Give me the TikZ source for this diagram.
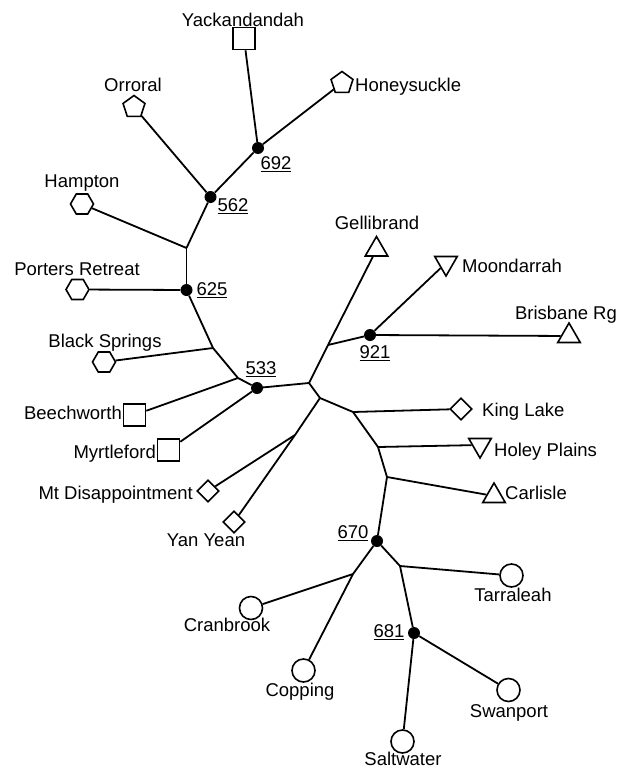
\documentclass[tikz,border=0pt]{standalone}
\usepackage{fontspec}
\setmainfont{Liberation Sans}
\usetikzlibrary{shapes.geometric}
\begin{document}
\begin{tikzpicture}[x=1pt,y=-1pt,
  edge/.style={line width=1.8pt},
  site/.style={draw, line width=1.6pt, inner sep=0pt, fill=white},
  sq/.style={site, rectangle, minimum size=22pt},
  pent/.style={site, regular polygon, regular polygon sides=5, minimum size=23pt},
  hex/.style={site, regular polygon, regular polygon sides=6, minimum size=23pt},
  tri/.style={site, regular polygon, regular polygon sides=3, minimum size=26pt},
  itri/.style={tri, shape border rotate=180},
  dia/.style={site, diamond, minimum size=22pt},
  circ/.style={site, circle, minimum size=23pt},
  hub/.style={circle, fill=black, inner sep=0pt, minimum size=12pt},
  sitename/.style={font=\fontsize{18.5}{20}\selectfont, inner sep=0pt, text height=13pt, text depth=0pt},
  hubnum/.style={font=\fontsize{18.5}{20}\selectfont, inner sep=0pt}
]
\useasboundingbox (0,0) rectangle (629,768);

% sites
\node[sq]   (yack) at (244,38.5) {};
\node[pent] (hon)  at (342,83) {};
\node[pent] (orr)  at (134,107) {};
\node[hex]  (ham)  at (82,204) {};
\node[hex]  (por)  at (77.5,289.5) {};
\node[hex]  (bla)  at (104,362) {};
\node[sq]   (bee)  at (134.5,415) {};
\node[sq]   (myr)  at (168.5,450) {};
\node[dia]  (mtd)  at (208,491) {};
\node[dia]  (yan)  at (234,522) {};
\node[tri]  (gel)  at (376.5,249.5) {};
\node[itri] (moo)  at (446,263) {};
\node[tri]  (bri)  at (569,336) {};
\node[dia]  (kin)  at (461,409) {};
\node[itri] (hol)  at (480,445) {};
\node[tri]  (car)  at (494,496) {};
\node[circ] (tar)  at (511.5,575.5) {};
\node[circ] (cra)  at (251,608) {};
\node[circ] (cop)  at (303.5,670.5) {};
\node[circ] (swa)  at (508.5,690) {};
\node[circ] (sal)  at (402.5,741.5) {};

% labelled hubs
\node[hub] (n692) at (258,148) {};
\node[hub] (n562) at (210.5,197) {};
\node[hub] (n625) at (186.5,290) {};
\node[hub] (n533) at (257,388) {};
\node[hub] (n921) at (370,335) {};
\node[hub] (n670) at (377,541) {};
\node[hub] (n681) at (414,633) {};

% unlabelled branch points
\coordinate (j1)  at (186.5,248);
\coordinate (j2)  at (213,348);
\coordinate (j3)  at (238,378);
\coordinate (j4)  at (309,383);
\coordinate (j5)  at (328,345);
\coordinate (j6)  at (320,398);
\coordinate (j7)  at (295,435);
\coordinate (j8)  at (353,412);
\coordinate (j9)  at (378,447);
\coordinate (j10) at (387,477);
\coordinate (j11) at (353,574);
\coordinate (j12) at (400,566);

% branches
\draw[edge] (yack) -- (n692);
\draw[edge] (hon) -- (n692);
\draw[edge] (n692) -- (n562);
\draw[edge] (orr) -- (n562);
\draw[edge] (n562) -- (j1);
\draw[edge] (ham) -- (j1);
\draw[edge] (j1) -- (n625);
\draw[edge] (por) -- (n625);
\draw[edge] (n625) -- (j2);
\draw[edge] (bla) -- (j2);
\draw[edge] (j2) -- (j3);
\draw[edge] (bee) -- (j3);
\draw[edge] (j3) -- (n533);
\draw[edge] (myr) -- (n533);
\draw[edge] (n533) -- (j4);
\draw[edge] (j4) -- (j5);
\draw[edge] (j5) -- (gel);
\draw[edge] (j5) -- (n921);
\draw[edge] (n921) -- (moo);
\draw[edge] (n921) -- (bri);
\draw[edge] (j4) -- (j6);
\draw[edge] (j6) -- (j7);
\draw[edge] (j7) -- (mtd);
\draw[edge] (j7) -- (yan);
\draw[edge] (j6) -- (j8);
\draw[edge] (j8) -- (kin);
\draw[edge] (j8) -- (j9);
\draw[edge] (j9) -- (hol);
\draw[edge] (j9) -- (j10);
\draw[edge] (j10) -- (car);
\draw[edge] (j10) -- (n670);
\draw[edge] (n670) -- (j11);
\draw[edge] (j11) -- (cra);
\draw[edge] (j11) -- (cop);
\draw[edge] (n670) -- (j12);
\draw[edge] (j12) -- (tar);
\draw[edge] (j12) -- (n681);
\draw[edge] (n681) -- (sal);
\draw[edge] (n681) -- (swa);

% site names
\node[sitename] (tyack) at (243,20) {Yackandandah};
\node[sitename, anchor=west] (thon) at (355,85) {Honeysuckle};
\node[sitename] (torr) at (133,85) {Orroral};
\node[sitename] (tham) at (82,181) {Hampton};
\node[sitename] (tpor) at (77,269) {Porters Retreat};
\node[sitename] (tbla) at (105,341) {Black Springs};
\node[sitename, anchor=east] (tbee) at (122,413) {Beechworth};
\node[sitename, anchor=east] (tmyr) at (156,452) {Myrtleford};
\node[sitename, anchor=east] (tmtd) at (193,493) {Mt Disappointment};
\node[sitename] (tyan) at (206,540) {Yan Yean};
\node[sitename] (tgel) at (377,223) {Gellibrand};
\node[sitename, anchor=west] (tmoo) at (462,266) {Moondarrah};
\node[sitename] (tbri) at (566,313) {Brisbane Rg};
\node[sitename, anchor=west] (tkin) at (482,410) {King Lake};
\node[sitename, anchor=west] (thol) at (494,450) {Holey Plains};
\node[sitename, anchor=west] (tcar) at (505,493) {Carlisle};
\node[sitename] (ttar) at (513,595) {Tarraleah};
\node[sitename] (tcra) at (227,625) {Cranbrook};
\node[sitename] (tcop) at (300,690) {Copping};
\node[sitename] (tswa) at (509,711) {Swanport};
\node[sitename] (tsal) at (403,759) {Saltwater};

% hub numbers
\node[hubnum] (l692) at (276,164) {\underline{692}};
\node[hubnum] (l562) at (233,206) {\underline{562}};
\node[hubnum] (l625) at (212,290) {\underline{625}};
\node[hubnum] (l533) at (261,369) {\underline{533}};
\node[hubnum] (l921) at (375,353) {\underline{921}};
\node[hubnum] (l670) at (353,533) {\underline{670}};
\node[hubnum] (l681) at (389,632) {\underline{681}};
\end{tikzpicture}
\end{document}
